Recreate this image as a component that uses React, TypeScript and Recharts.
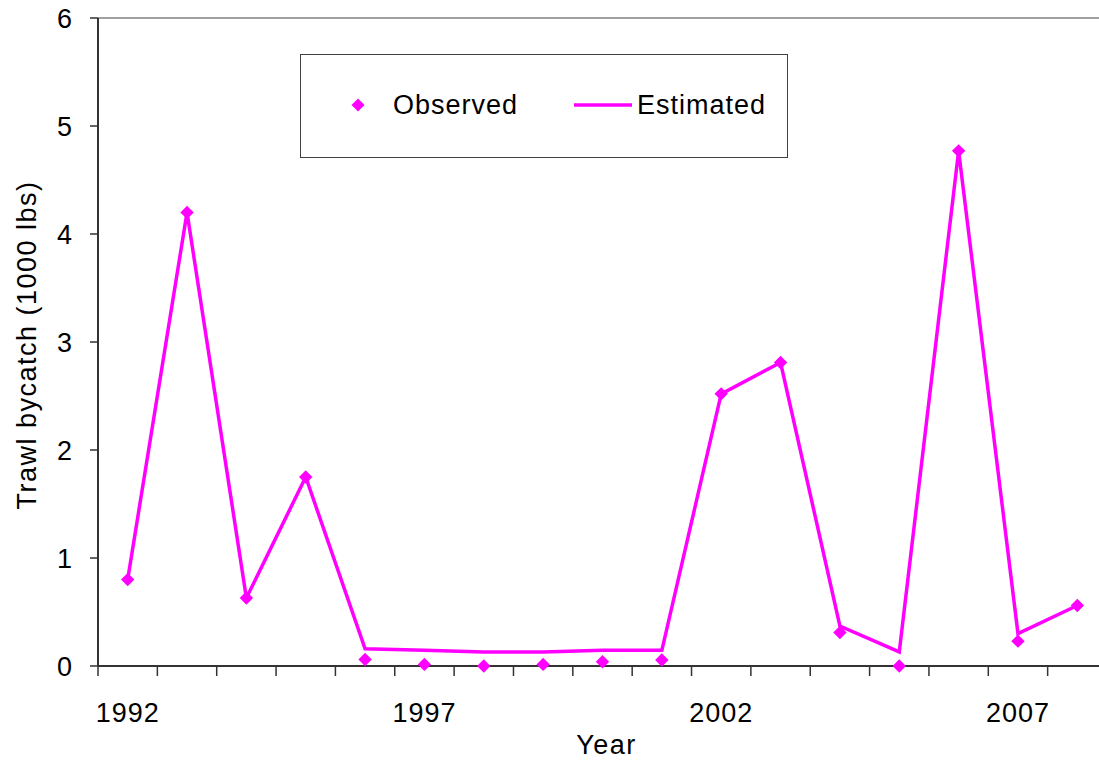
import React from 'react';
import { ComposedChart, Line, Scatter, XAxis, YAxis, ReferenceLine, Legend } from 'recharts';

const years = [1992, 1993, 1994, 1995, 1996, 1997, 1998, 1999, 2000, 2001, 2002, 2003, 2004, 2005, 2006, 2007, 2008];
const observed = [0.8, 4.2, 0.63, 1.75, 0.06, 0.015, 0, 0.015, 0.04, 0.055, 2.52, 2.81, 0.31, 0, 4.77, 0.23, 0.56];
const estimated = [0.8, 4.2, 0.63, 1.75, 0.16, 0.145, 0.13, 0.13, 0.145, 0.145, 2.52, 2.81, 0.37, 0.13, 4.77, 0.3, 0.56];
const yTicks = [0, 1, 2, 3, 4, 5, 6];
const yearLabels = [1992, 1997, 2002, 2007];
const boundaryTicks = [1991.5, ...years.map((y) => y + 0.5)];
const seriesNames = { observed: 'Observed', estimated: 'Estimated' };

const data = years.map((year, i) => ({ year, observed: observed[i], estimated: estimated[i] }));

const MAGENTA = '#FF00FF';
const FONT = '"Liberation Sans", Arial, sans-serif';
const FS = 27;

const Diamond = (props: any) => {
  const { cx, cy } = props;
  if (cx == null || cy == null) return null;
  const r = 6.7;
  return <polygon points={`${cx},${cy - r} ${cx + r},${cy} ${cx},${cy + r} ${cx - r},${cy}`} fill={MAGENTA} />;
};

const EmptyTick = () => <g />;

const LegendBox = () => (
  <div
    style={{
      position: 'relative',
      width: 488,
      height: 104,
      boxSizing: 'border-box',
      border: '1px solid #404040',
      background: '#fff',
      fontFamily: FONT,
      fontSize: FS,
      letterSpacing: 1,
      color: '#000',
    }}
  >
    <svg style={{ position: 'absolute', left: 49, top: 42 }} width={16} height={16}>
      <polygon points="8,1.5 14.5,8 8,14.5 1.5,8" fill={MAGENTA} />
    </svg>
    <span style={{ position: 'absolute', left: 92, top: 50, transform: 'translateY(-50%)', lineHeight: 1, whiteSpace: 'nowrap' }}>
      {seriesNames.observed}
    </span>
    <svg style={{ position: 'absolute', left: 272, top: 44 }} width={60} height={12}>
      <line x1={1} y1={6} x2={59} y2={6} stroke={MAGENTA} strokeWidth={3.5} />
    </svg>
    <span style={{ position: 'absolute', left: 336, top: 50, transform: 'translateY(-50%)', lineHeight: 1, whiteSpace: 'nowrap' }}>
      {seriesNames.estimated}
    </span>
  </div>
);

const YLabel = (props: any) => {
  const vb = props.viewBox || { x: 0, y: 0, width: 0, height: 0 };
  const cx = vb.x + 27;
  const cy = vb.y + vb.height / 2 + 3;
  return (
    <text
      x={cx}
      y={cy}
      transform={`rotate(-90, ${cx}, ${cy})`}
      textAnchor="middle"
      dominantBaseline="central"
      fontFamily={FONT}
      fontSize={FS}
      letterSpacing={1.5}
      fill="#000"
    >
      Trawl bycatch (1000 lbs)
    </text>
  );
};

const XLabel = (props: any) => {
  const vb = props.viewBox || { x: 0, y: 0, width: 0, height: 0 };
  const cx = vb.x + vb.width / 2 + 4;
  const cy = vb.y + 67;
  return (
    <text x={cx} y={cy} textAnchor="middle" dominantBaseline="central" fontFamily={FONT} fontSize={FS} letterSpacing={1.5} fill="#000">
      Year
    </text>
  );
};

export default function App() {
  return (
    <div style={{ position: 'absolute', left: 0, top: 0, width: 1099, height: 766, overflow: 'hidden', background: '#fff' }}>
      <ComposedChart width={1107} height={766} data={data} margin={{ top: 18, right: 0, bottom: 0, left: 0 }}>
        <XAxis
          xAxisId="g"
          type="number"
          dataKey="year"
          domain={[1991.5, 2008.5]}
          ticks={boundaryTicks}
          interval={0}
          tick={EmptyTick}
          tickSize={10}
          height={12}
          axisLine={{ stroke: '#333', strokeWidth: 2 }}
          tickLine={{ stroke: '#333', strokeWidth: 1.5 }}
          allowDecimals
        />
        <XAxis
          xAxisId="l"
          type="number"
          dataKey="year"
          domain={[1991.5, 2008.5]}
          ticks={yearLabels}
          interval={0}
          axisLine={false}
          tickLine={false}
          tickSize={0}
          tickMargin={25}
          height={88}
          tick={{ fontFamily: FONT, fontSize: FS, fill: '#000', letterSpacing: 1 }}
          label={XLabel}
        />
        <YAxis
          type="number"
          domain={[0, 6]}
          ticks={yTicks}
          interval={0}
          width={98}
          tickSize={8}
          tickMargin={18}
          axisLine={{ stroke: '#333', strokeWidth: 2 }}
          tickLine={{ stroke: '#333', strokeWidth: 1.5 }}
          tick={{ fontFamily: FONT, fontSize: FS, fill: '#000' }}
          label={YLabel}
        />
        <ReferenceLine xAxisId="g" y={6} stroke="#a0a0a0" strokeWidth={2} />
        <Legend
          layout="horizontal"
          verticalAlign="middle"
          align="center"
          width={488}
          height={104}
          wrapperStyle={{ left: 300, top: 54, width: 488, height: 104 }}
          content={LegendBox}
        />
        <Line
          xAxisId="g"
          type="linear"
          dataKey="estimated"
          name={seriesNames.estimated}
          stroke={MAGENTA}
          strokeWidth={3.5}
          dot={false}
          activeDot={false}
          isAnimationActive={false}
        />
        <Scatter
          xAxisId="g"
          dataKey="observed"
          name={seriesNames.observed}
          fill={MAGENTA}
          shape={Diamond}
          isAnimationActive={false}
        />
      </ComposedChart>
    </div>
  );
}
